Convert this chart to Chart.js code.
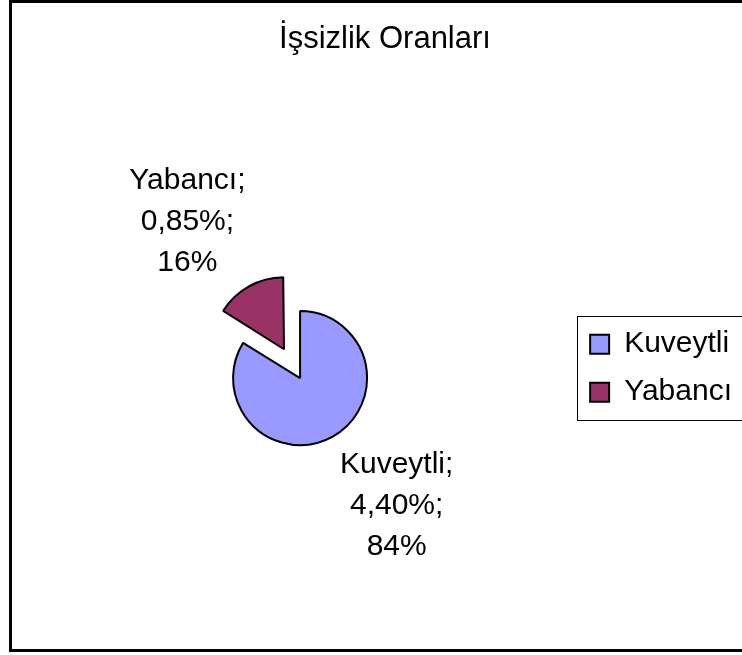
<!DOCTYPE html>
<html>
<head>
<meta charset="utf-8">
<title>İşsizlik Oranları</title>
<script src="https://cdn.jsdelivr.net/npm/chart.js@4"></script>
<style>
    html, body { margin: 0; padding: 0; background: #fff; }
    #wrap { width: 742px; height: 655px; }
</style>
</head>
<body>
<div id="wrap"><canvas id="pieChart" width="742" height="655"></canvas></div>
<script>
// Chart data
const categories = ['Kuveytli', 'Yabancı'];
const rates = [4.40, 0.85];
const sliceColors = ['#9999FF', '#993366'];
const explode = [0, 132];   // chart.js moves a slice by offset / 4

const FONT = "'Liberation Sans', Arial, sans-serif";
Chart.defaults.color = '#000';
Chart.defaults.font.family = FONT;

/**
 * Outer frame of the picture
 */
const framePlugin = {
    id: 'frame',
    beforeDraw(chart) {
        const ctx = chart.ctx;
        ctx.save();
        ctx.strokeStyle = '#000';
        ctx.lineWidth = 3;
        ctx.strokeRect(10.5, 1.5, 800, 649);
        ctx.restore();
    }
};

/**
 * Border round the legend items
 */
const legendBoxPlugin = {
    id: 'legendBox',
    afterDraw(chart) {
        const boxes = chart.legend && chart.legend.legendHitBoxes;
        if (!boxes || !boxes.length) return;
        const first = boxes[0];
        const last = boxes[boxes.length - 1];
        const ctx = chart.ctx;
        ctx.save();
        ctx.strokeStyle = '#000';
        ctx.lineWidth = 1;
        const left = Math.round(first.left - 13) + 0.5;
        const top = Math.round(first.top - 13) + 0.5;
        const bottom = Math.round(last.top + last.height + 13) + 0.5;
        ctx.strokeRect(left, top, 800, bottom - top);
        ctx.restore();
    }
};

/**
 * Slice labels: name; value; share
 */
const sliceLabelPlugin = {
    id: 'sliceLabels',
    afterDatasetsDraw(chart) {
        const ctx = chart.ctx;
        const meta = chart.getDatasetMeta(0);
        const total = rates.reduce((a, b) => a + b, 0);
        const dist = 160;
        const turn = -8 * Math.PI / 180;
        const lineH = 41;

        ctx.save();
        ctx.font = '30px ' + FONT;
        ctx.fillStyle = '#000';
        ctx.textAlign = 'center';
        ctx.textBaseline = 'middle';

        meta.data.forEach((arc, i) => {
            const mid = (arc.startAngle + arc.endAngle) / 2;
            const shift = (arc.options.offset || 0) / 4;
            const cx = arc.x + Math.cos(mid) * shift;
            const cy = arc.y + Math.sin(mid) * shift;
            const px = cx + Math.cos(mid + turn) * dist;
            const py = cy + Math.sin(mid + turn) * dist;

            const lines = [
                categories[i] + ';',
                rates[i].toFixed(2).replace('.', ',') + '%;',
                Math.round(rates[i] / total * 100) + '%'
            ];
            lines.forEach((txt, k) => {
                ctx.fillText(txt, px, py + (k - 1) * lineH);
            });
        });
        ctx.restore();
    }
};

new Chart(document.getElementById('pieChart'), {
    type: 'pie',
    data: {
        labels: categories,
        datasets: [{
            data: rates,
            backgroundColor: sliceColors,
            borderColor: '#000',
            borderWidth: 2,
            offset: explode
        }]
    },
    options: {
        responsive: false,
        animation: false,
        radius: 67,
        cutout: '0%',
        layout: {
            padding: { left: 28, right: 0, top: 0, bottom: 210 }
        },
        plugins: {
            title: {
                display: true,
                text: 'İşsizlik Oranları',
                color: '#000',
                font: { size: 31, weight: 'normal', family: FONT },
                padding: { top: 21, bottom: 253 }
            },
            legend: {
                display: true,
                position: 'right',
                align: 'start',
                fullSize: false,
                labels: {
                    color: '#000',
                    font: { size: 30, family: FONT },
                    boxWidth: 19,
                    boxHeight: 19,
                    padding: 18
                }
            },
            tooltip: { enabled: false }
        }
    },
    plugins: [framePlugin, legendBoxPlugin, sliceLabelPlugin]
});
</script>
</body>
</html>
